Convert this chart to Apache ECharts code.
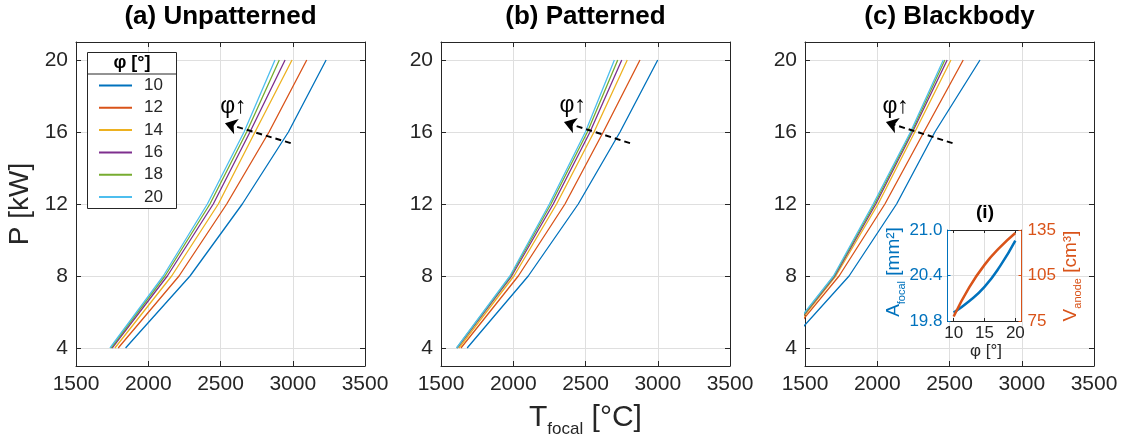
<!DOCTYPE html>
<html><head><meta charset="utf-8">
<script src="https://cdn.jsdelivr.net/npm/echarts@6/dist/echarts.min.js"></script>
<style>html,body{margin:0;padding:0;background:#fff}#c{width:1124px;height:440px}</style>
</head><body><div id="c"></div>
<script>
const FONT = "'Liberation Sans', Arial, Helvetica, 'DejaVu Sans', sans-serif";
const INK = '#262626';
const GRIDC = '#dfdfdf';
const colors = ['#0072BD', '#D95319', '#EDB120', '#7E2F8E', '#77AC30', '#4DBEEE'];

// Data
const powerKW = [4, 8, 12, 16, 20];
const phiLabels = ['10', '12', '14', '16', '18', '20'];
const xTicks = [1500, 2000, 2500, 3000, 3500];
const yTicks = [4, 8, 12, 16, 20];
// T_focal [°C] per phi (rows: phi 10..20), at P = powerKW
const tUnpatterned = [
  [1843, 2289, 2651, 2970, 3231],
  [1792, 2213, 2543, 2836, 3097],
  [1769, 2162, 2485, 2739, 2995],
  [1750, 2132, 2450, 2704, 2947],
  [1742, 2116, 2427, 2681, 2907],
  [1735, 2104, 2409, 2663, 2877]
];
const tPatterned = [
  [1681, 2104, 2450, 2739, 3000],
  [1638, 2035, 2358, 2623, 2877],
  [1624, 2005, 2300, 2559, 2789],
  [1612, 1989, 2277, 2531, 2751],
  [1609, 1982, 2261, 2513, 2723],
  [1607, 1977, 2250, 2499, 2700]
];
const tBlackbody = [
  [1355, 1805, 2134, 2399, 2711],
  [1325, 1736, 2053, 2323, 2595],
  [1318, 1713, 2006, 2260, 2510],
  [1312, 1706, 1990, 2244, 2484],
  [1308, 1701, 1981, 2237, 2468],
  [1304, 1697, 1972, 2230, 2457]
];
// annotation arrows [tail, head] and "φ↑" label positions (data coords)
const arrowA = [[2986, 15.38], [2531, 16.49]];
const arrowB = [[2808, 15.38], [2351, 16.55]];
const arrowC = [[2521, 15.38], [2060, 16.55]];
const labelA = [2589, 17.43];
const labelB = [2412, 17.46];
const labelC = [2127, 17.43];
// inset (i)
const phiInset = [10, 12.5, 15, 17.5, 20];
const aFocal = [19.91, 20.06, 20.25, 20.52, 20.86];
const vAnode = [78, 97, 112, 123.5, 133];
const insetXTicks = [10, 15, 20];

const panelTitles = ['(a) Unpatterned', '(b) Patterned', '(c) Blackbody'];
const panelLeft = [76, 441, 805];
const panelData = [tUnpatterned, tPatterned, tBlackbody];
const panelArrows = [arrowA, arrowB, arrowC];
const panelLabels = [labelA, labelB, labelC];

const grids = panelLeft.map(l => ({ left: l, top: 42, width: 289, height: 324, show: true, backgroundColor: '#fff', borderWidth: 0, containLabel: false }));
grids.push({ left: 947.5, top: 230, width: 74, height: 91, show: true, backgroundColor: '#fff', borderWidth: 0, containLabel: false, z: 3 });

const xAxes = [], yAxes = [], series = [];
panelLeft.forEach((l, p) => {
  const base = {
    type: 'value', gridIndex: p, min: 1500, max: 3500, interval: 500,
    axisLine: { show: true, onZero: false, lineStyle: { color: INK, width: 1 } },
    axisTick: { show: true, inside: true, length: 5, lineStyle: { color: INK } }
  };
  xAxes.push(Object.assign({}, base, { position: 'bottom',
    axisLabel: { show: true, fontSize: 21, color: INK, margin: 8, fontFamily: FONT, formatter: v => String(v) },
    splitLine: { show: true, lineStyle: { color: GRIDC, width: 1 } } }));
  xAxes.push(Object.assign({}, base, { position: 'top', axisLabel: { show: false }, splitLine: { show: false } }));
  const ybase = {
    type: 'value', gridIndex: p, min: 3, max: 21,
    axisLine: { show: true, onZero: false, lineStyle: { color: INK, width: 1 } },
    axisTick: { show: true, inside: true, length: 5, customValues: yTicks, lineStyle: { color: INK } }
  };
  yAxes.push(Object.assign({}, ybase, { position: 'left',
    axisLabel: { show: true, customValues: yTicks, fontSize: 21, color: INK, margin: 8, fontFamily: FONT },
    splitLine: { show: true, lineStyle: { color: GRIDC, width: 1 } } }));
  yAxes.push(Object.assign({}, ybase, { position: 'right', axisLabel: { show: false }, splitLine: { show: false } }));

  panelData[p].forEach((arr, k) => {
    const s = {
      name: phiLabels[k], type: 'line', xAxisIndex: 2 * p, yAxisIndex: 2 * p, symbol: 'none',
      data: arr.map((t, i) => [t, powerKW[i]]),
      lineStyle: { width: 1.3, color: colors[k] }, itemStyle: { color: colors[k] },
      clip: true, z: 2
    };
    if (k === 0) {
      s.markLine = {
        silent: true, symbol: ['none', 'arrow'], symbolSize: 12,
        lineStyle: { color: '#000', type: [6, 4], width: 2 },
        label: { show: false },
        data: [[{ coord: panelArrows[p][0] }, { coord: panelArrows[p][1] }]]
      };
      s.markPoint = {
        silent: true, symbol: 'circle', symbolSize: 1, itemStyle: { color: 'rgba(0,0,0,0)' },
        label: { show: true, position: 'inside', formatter: 'φ↑', fontSize: 23, color: '#000', fontFamily: FONT },
        data: [{ coord: panelLabels[p], value: 1 }]
      };
    }
    series.push(s);
  });
});

// inset axes
const ib = 3;
xAxes.push({ type: 'value', gridIndex: ib, position: 'bottom', min: 9, max: 21, z: 4,
  axisLine: { show: true, onZero: false, lineStyle: { color: INK } },
  axisTick: { show: true, inside: true, length: 3, customValues: insetXTicks, lineStyle: { color: INK } },
  axisLabel: { show: true, customValues: insetXTicks, fontSize: 17, color: INK, margin: 4, fontFamily: FONT },
  splitLine: { show: true, lineStyle: { color: GRIDC } } });
xAxes.push({ type: 'value', gridIndex: ib, position: 'top', min: 9, max: 21, z: 4,
  axisLine: { show: true, onZero: false, lineStyle: { color: INK } },
  axisTick: { show: true, inside: true, length: 3, customValues: insetXTicks, lineStyle: { color: INK } },
  axisLabel: { show: false }, splitLine: { show: false } });
yAxes.push({ type: 'value', gridIndex: ib, position: 'left', min: 19.8, max: 21.0, interval: 0.6, z: 4,
  axisLine: { show: true, onZero: false, lineStyle: { color: colors[0] } },
  axisTick: { show: true, inside: true, length: 3, lineStyle: { color: colors[0] } },
  axisLabel: { show: true, fontSize: 17, color: colors[0], margin: 5, fontFamily: FONT, formatter: v => v.toFixed(1) },
  splitLine: { show: true, lineStyle: { color: GRIDC } } });
yAxes.push({ type: 'value', gridIndex: ib, position: 'right', min: 75, max: 135, interval: 30, z: 4,
  axisLine: { show: true, onZero: false, lineStyle: { color: colors[1] } },
  axisTick: { show: true, inside: true, length: 3, lineStyle: { color: colors[1] } },
  axisLabel: { show: true, fontSize: 17, color: colors[1], margin: 6, fontFamily: FONT },
  splitLine: { show: false } });
series.push({ name: 'A_focal', type: 'line', xAxisIndex: 6, yAxisIndex: 6, symbol: 'none', smooth: true, z: 5,
  data: phiInset.map((x, i) => [x, aFocal[i]]), lineStyle: { width: 2.5, color: colors[0] }, itemStyle: { color: colors[0] } });
series.push({ name: 'V_anode', type: 'line', xAxisIndex: 6, yAxisIndex: 7, symbol: 'none', smooth: true, z: 5,
  data: phiInset.map((x, i) => [x, vAnode[i]]), lineStyle: { width: 2.5, color: colors[1] }, itemStyle: { color: colors[1] } });

function txt(x, y, text, size, opts) {
  return Object.assign({ type: 'text', x: x, y: y, z: 30,
    style: Object.assign({ text: text, fontSize: size, fontFamily: FONT, fill: INK, align: 'center', verticalAlign: 'middle' }, (opts && opts.style) || {}) },
    opts && opts.rotation ? { rotation: opts.rotation } : {});
}

const graphic = [];
panelTitles.forEach((t, p) => graphic.push(txt(panelLeft[p] + 144.5, 17, t, 26, { style: { fontWeight: 'bold', fill: '#000' } })));
graphic.push(txt(20, 204, 'P [kW]', 28, { rotation: Math.PI / 2 }));
graphic.push({ type: 'text', x: 585.5, y: 418, z: 30, style: {
  text: '{m|T}{s|focal}{m| [°C]}', align: 'center', verticalAlign: 'middle',
  rich: {
    m: { fontSize: 30, lineHeight: 40, verticalAlign: 'middle', fontFamily: FONT, fill: INK, color: INK },
    s: { fontSize: 17, lineHeight: 17, verticalAlign: 'bottom', fontFamily: FONT, fill: INK, color: INK }
  } } });
graphic.push({ type: 'text', x: 894, y: 272, rotation: Math.PI / 2, z: 30, style: {
  text: '{m|A}{s|focal}{m| [mm²]}', align: 'center', verticalAlign: 'middle',
  rich: {
    m: { fontSize: 19, lineHeight: 26, verticalAlign: 'middle', fontFamily: FONT, fill: colors[0], color: colors[0] },
    s: { fontSize: 11, lineHeight: 11, verticalAlign: 'bottom', fontFamily: FONT, fill: colors[0], color: colors[0] }
  } } });
graphic.push({ type: 'text', x: 1070.5, y: 276, rotation: Math.PI / 2, z: 30, style: {
  text: '{m|V}{s|anode}{m| [cm³]}', align: 'center', verticalAlign: 'middle',
  rich: {
    m: { fontSize: 19, lineHeight: 26, verticalAlign: 'middle', fontFamily: FONT, fill: colors[1], color: colors[1] },
    s: { fontSize: 11, lineHeight: 11, verticalAlign: 'bottom', fontFamily: FONT, fill: colors[1], color: colors[1] }
  } } });
graphic.push(txt(985, 213, '(i)', 19, { style: { fontWeight: 'bold', fill: '#000' } }));
graphic.push(txt(986, 351, 'φ [°]', 17));
// legend frame
graphic.push({ type: 'rect', z: 10, shape: { x: 87.5, y: 52.5, width: 89, height: 156 }, style: { fill: '#fff', stroke: INK, lineWidth: 1 } });
graphic.push({ type: 'line', z: 11, shape: { x1: 87.5, y1: 74, x2: 176.5, y2: 74 }, style: { stroke: INK, lineWidth: 1 } });
graphic.push(txt(132, 63, 'φ [°]', 18, { style: { fontWeight: 'bold', fill: '#000' } }));

const option = {
  animation: false,
  backgroundColor: '#fff',
  textStyle: { fontFamily: FONT },
  grid: grids,
  xAxis: xAxes,
  yAxis: yAxes,
  legend: {
    data: phiLabels, orient: 'vertical', left: 99, top: 77, padding: 0, itemGap: 5.3,
    icon: 'rect', itemWidth: 33, itemHeight: 2, z: 40, selectedMode: false,
    textStyle: { fontSize: 17, lineHeight: 17, color: INK, fontFamily: FONT, padding: [0, 0, 0, 7] }
  },
  graphic: graphic,
  series: series
};
const chart = echarts.init(document.getElementById('c'), null, { renderer: 'canvas' });
chart.setOption(option);
</script>
</body></html>
